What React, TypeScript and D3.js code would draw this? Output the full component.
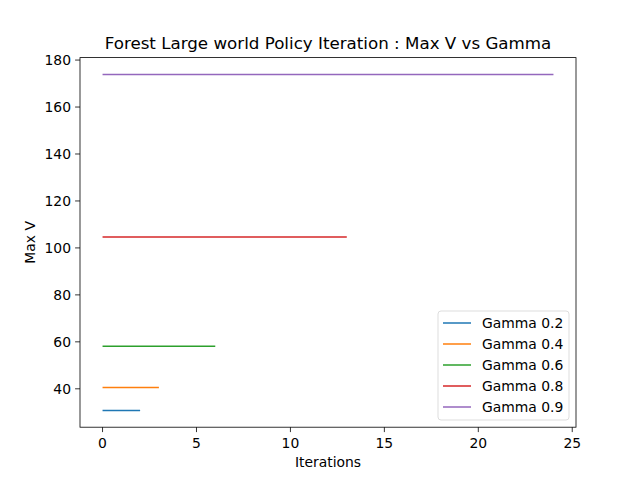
import React from 'react';
import * as d3 from 'd3';

const gammas = ['Gamma 0.2', 'Gamma 0.4', 'Gamma 0.6', 'Gamma 0.8', 'Gamma 0.9'];
const lastIteration = [2, 3, 6, 13, 24];
const maxV = [30.8, 40.5, 58.1, 104.6, 173.9];
const colors = ['#1f77b4', '#ff7f0e', '#2ca02c', '#d62728', '#9467bd'];
const xTicks = [0, 5, 10, 15, 20, 25];
const yTicks = [40, 60, 80, 100, 120, 140, 160, 180];

const W = 640, H = 480;
const L = 80, R = 576, T = 57.6, B = 427.2;

const App = () => {
  const xMax = d3.max(lastIteration)!;
  const xPad = xMax * 0.05;
  const x = d3.scaleLinear().domain([-xPad, xMax + xPad]).range([L, R]);
  const [yMin, yMax] = d3.extent(maxV) as [number, number];
  const yPad = (yMax - yMin) * 0.05;
  const y = d3.scaleLinear().domain([yMin - yPad, yMax + yPad]).range([B, T]);
  const line = d3.line<[number, number]>().x(d => x(d[0])).y(d => y(d[1]));
  const font = 'DejaVu Sans, sans-serif';
  const fs = 13.9;

  return (
    <svg width={W} height={H} style={{ position: 'absolute', left: 0, top: 0 }} fontFamily={font}>
      <rect width={W} height={H} fill="white" />
      {gammas.map((g, i) => (
        <path key={g} d={line([[0, maxV[i]], [lastIteration[i], maxV[i]]])!} stroke={colors[i]} strokeWidth={1.5} fill="none" />
      ))}
      <rect x={L} y={T} width={R - L} height={B - T} fill="none" stroke="black" strokeWidth={0.8} />
      {xTicks.map(t => (
        <g key={t} transform={`translate(${x(t)},${B})`}>
          <line y2={4.9} stroke="black" strokeWidth={0.8} />
          <text y={21} textAnchor="middle" fontSize={fs}>{t}</text>
        </g>
      ))}
      {yTicks.map(t => (
        <g key={t} transform={`translate(${L},${y(t)})`}>
          <line x2={-4.9} stroke="black" strokeWidth={0.8} />
          <text x={-9} dy="0.35em" textAnchor="end" fontSize={fs}>{t}</text>
        </g>
      ))}
      <text x={(L + R) / 2} y={467} textAnchor="middle" fontSize={fs}>Iterations</text>
      <text transform={`translate(35,${(T + B) / 2}) rotate(-90)`} textAnchor="middle" fontSize={fs}>Max V</text>
      <text x={(L + R) / 2} y={49} textAnchor="middle" fontSize={16.7}>Forest Large world Policy Iteration : Max V vs Gamma</text>
      <g transform="translate(438,311)">
        <rect width={131} height={109} rx={3} fill="white" stroke="#cccccc" strokeWidth={0.8} opacity={0.8} />
        {gammas.map((g, i) => (
          <g key={g} transform={`translate(0,${12 + i * 21})`}>
            <line x1={5} x2={33} stroke={colors[i]} strokeWidth={1.5} />
            <text x={44} dy="0.35em" fontSize={fs}>{g}</text>
          </g>
        ))}
      </g>
    </svg>
  );
};

export default App;
